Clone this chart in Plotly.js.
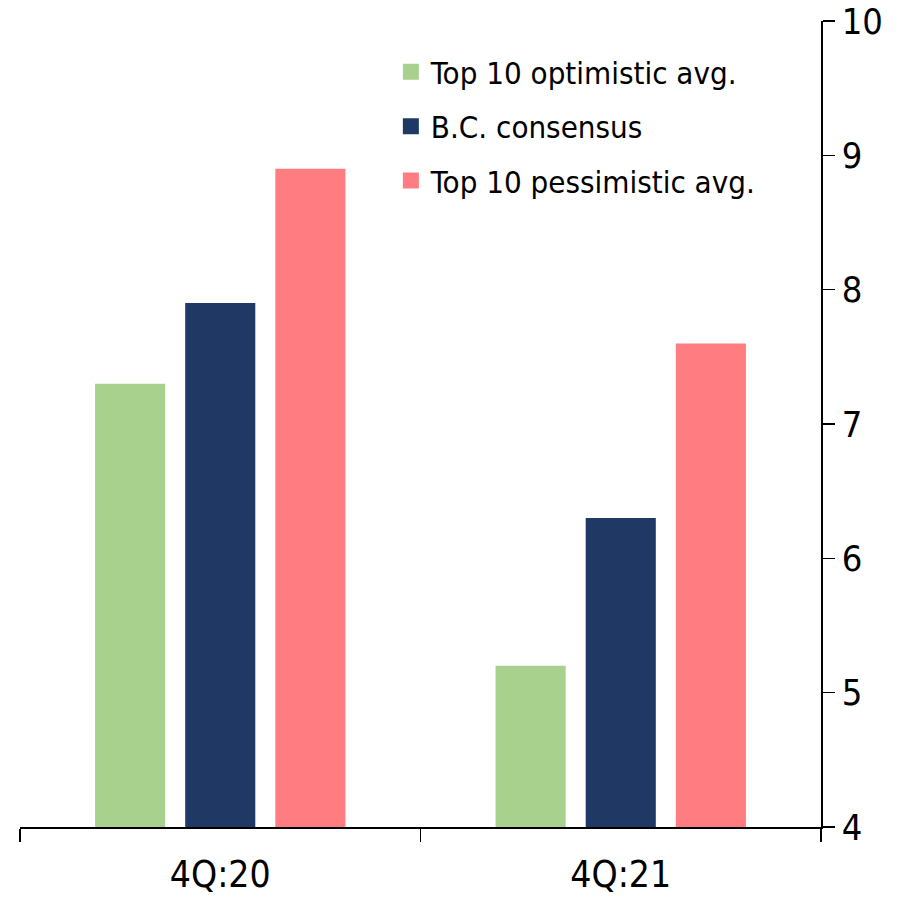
<!DOCTYPE html>
<html><head><meta charset="utf-8">
<script src="https://cdn.plot.ly/plotly-3.0.1.min.js"></script>
<style>body{margin:0;background:#fff}#chart{width:910px;height:898px}</style>
</head><body><div id="chart"></div>
<script>
const categories = ["4Q:20", "4Q:21"];
const optimistic = [7.3, 5.2];
const consensus = [7.9, 6.3];
const pessimistic = [8.9, 7.6];
const seriesNames = ["Top 10 optimistic avg.", "B.C. consensus", "Top 10 pessimistic avg."];
const yTicks = [4, 5, 6, 7, 8, 9, 10];
const colors = ["#a9d18e", "#203864", "#ff7c80"];
const FONT = "DejaVu Sans Condensed, DejaVu Sans, sans-serif";

const values = [optimistic, consensus, pessimistic];
const traces = [];
values.forEach((v, i) => {
  traces.push({type: "bar", x: categories, y: v, name: seriesNames[i],
    marker: {color: colors[i]}, showlegend: false, hoverinfo: "skip"});
});
values.forEach((v, i) => {
  traces.push({type: "scatter", mode: "markers", x: [null], y: [null], name: seriesNames[i],
    legendgroup: "g" + i, marker: {symbol: "square", size: 18, color: colors[i]}, showlegend: true});
});

const layout = {
  width: 910, height: 898,
  margin: {l: 20, r: 89, t: 21, b: 71},
  paper_bgcolor: "#fff", plot_bgcolor: "#fff",
  font: {family: FONT, color: "#000", size: 31},
  barmode: "group", bargap: 0.325, bargroupgap: 0.222,
  showlegend: true,
  legend: {x: 0.463, y: 0.97, xanchor: "left", yanchor: "top", bgcolor: "rgba(0,0,0,0)",
    font: {family: FONT, size: 31}, tracegroupgap: 11, itemsizing: "trace"},
  xaxis: {type: "category", showline: true, linecolor: "#000", linewidth: 1.5,
    ticks: "outside", tickson: "boundaries", ticklen: 13, tickwidth: 1.5, tickcolor: "#000",
    tickfont: {family: FONT, size: 37}, ticklabelstandoff: 14, showgrid: false, zeroline: false,
    fixedrange: true},
  yaxis: {side: "right", range: [4, 10], tickmode: "array", tickvals: yTicks, ticktext: yTicks.map(String),
    showline: true, linecolor: "#000", linewidth: 1.5,
    ticks: "outside", ticklen: 12, tickwidth: 1.5, tickcolor: "#000", ticklabeloverflow: "allow",
    tickfont: {family: FONT, size: 36}, showgrid: false, zeroline: false, fixedrange: true}
};
Plotly.newPlot("chart", traces, layout, {displayModeBar: false, staticPlot: true});
</script></body></html>
